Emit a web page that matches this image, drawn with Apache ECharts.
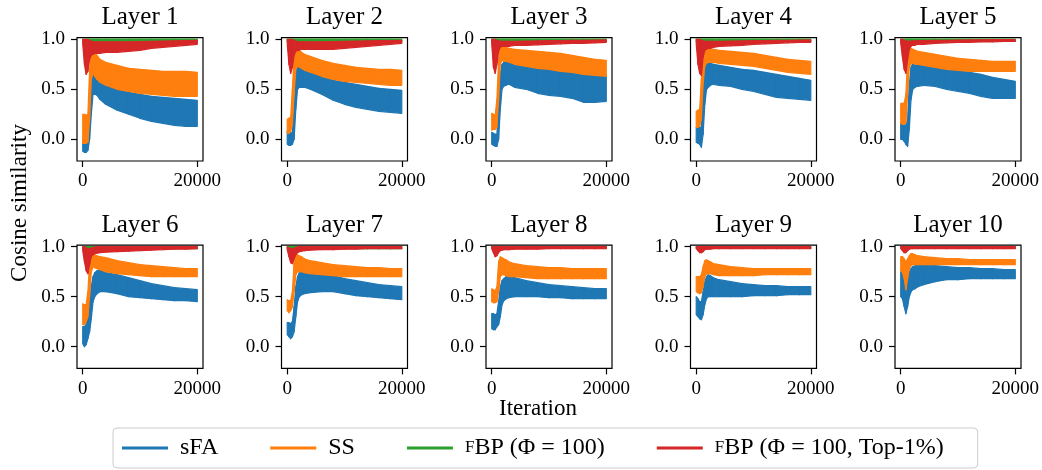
<!DOCTYPE html>
<html><head><meta charset="utf-8">
<script src="https://cdn.jsdelivr.net/npm/echarts@6/dist/echarts.min.js"></script>
<style>html,body{margin:0;padding:0;background:#fff}#c{width:1042px;height:470px}</style>
</head><body><div id="c"></div><script>
// ---------------- data ----------------
const iterations = [0,300,600,900,1200,1500,1800,2100,2500,3000,4000,6000,8000,10000,12000,14000,16000,18000,20000];
const layerNames = ['Layer 1','Layer 2','Layer 3','Layer 4','Layer 5','Layer 6','Layer 7','Layer 8','Layer 9','Layer 10'];
const seriesNames = ['sFA','SS','fBP (Φ = 100)','fBP (Φ = 100, Top-1%)'];
const seriesColors = ['#1f77b4','#ff7f0e','#2ca02c','#d62728'];
const xTicks = [0, 20000];
const yTicks = [0.0, 0.5, 1.0];

// sFA: lower / upper envelope of the noisy curve, one row per layer
const sfaLow = [
 [-0.12,-0.13,-0.13,-0.11,0.00,0.25,0.45,0.45,0.44,0.40,0.35,0.29,0.25,0.21,0.18,0.16,0.14,0.13,0.13],
 [-0.05,-0.06,-0.06,-0.05,0.00,0.30,0.50,0.52,0.52,0.52,0.50,0.45,0.39,0.35,0.32,0.30,0.28,0.27,0.26],
 [-0.05,-0.06,-0.07,-0.07,0.00,0.30,0.50,0.53,0.54,0.55,0.52,0.50,0.46,0.44,0.43,0.41,0.37,0.37,0.38],
 [-0.03,-0.04,-0.05,-0.08,0.05,0.35,0.50,0.52,0.54,0.55,0.54,0.53,0.50,0.48,0.45,0.42,0.41,0.40,0.39],
 [0.00,0.00,-0.02,-0.05,-0.07,0.10,0.40,0.50,0.52,0.53,0.54,0.53,0.50,0.48,0.46,0.43,0.41,0.41,0.41],
 [0.03,0.00,0.02,0.08,0.15,0.28,0.45,0.50,0.53,0.55,0.55,0.53,0.50,0.49,0.48,0.47,0.46,0.46,0.45],
 [0.12,0.10,0.08,0.10,0.15,0.30,0.45,0.50,0.52,0.53,0.54,0.55,0.55,0.53,0.51,0.50,0.49,0.48,0.47],
 [0.18,0.17,0.17,0.20,0.22,0.30,0.42,0.46,0.48,0.49,0.50,0.50,0.50,0.49,0.49,0.48,0.48,0.48,0.48],
 [0.32,0.30,0.28,0.27,0.32,0.42,0.48,0.50,0.50,0.50,0.50,0.50,0.50,0.51,0.51,0.51,0.52,0.52,0.52],
 [0.50,0.48,0.40,0.33,0.40,0.50,0.55,0.57,0.58,0.60,0.62,0.65,0.67,0.67,0.68,0.68,0.68,0.68,0.68]
];
const sfaHigh = [
 [0.00,0.00,-0.01,0.00,0.30,0.60,0.67,0.66,0.64,0.60,0.55,0.50,0.47,0.45,0.43,0.42,0.41,0.40,0.39],
 [0.08,0.08,0.06,0.07,0.30,0.65,0.74,0.73,0.71,0.70,0.68,0.63,0.59,0.57,0.55,0.53,0.51,0.50,0.49],
 [0.07,0.06,0.05,0.05,0.35,0.65,0.75,0.77,0.78,0.77,0.76,0.74,0.71,0.70,0.68,0.67,0.66,0.65,0.64],
 [0.12,0.12,0.12,0.12,0.50,0.70,0.75,0.76,0.76,0.75,0.74,0.72,0.70,0.69,0.67,0.65,0.63,0.61,0.59],
 [0.16,0.15,0.15,0.14,0.20,0.55,0.72,0.76,0.76,0.75,0.74,0.73,0.71,0.69,0.67,0.65,0.62,0.60,0.58],
 [0.20,0.20,0.22,0.30,0.45,0.60,0.70,0.74,0.76,0.77,0.74,0.72,0.69,0.66,0.63,0.61,0.59,0.58,0.57],
 [0.24,0.24,0.23,0.25,0.40,0.60,0.70,0.74,0.75,0.74,0.73,0.72,0.71,0.68,0.66,0.64,0.62,0.61,0.60],
 [0.33,0.33,0.32,0.33,0.45,0.60,0.66,0.68,0.70,0.70,0.69,0.66,0.64,0.62,0.61,0.60,0.59,0.58,0.58],
 [0.50,0.48,0.45,0.45,0.55,0.65,0.70,0.72,0.71,0.69,0.67,0.65,0.63,0.62,0.61,0.61,0.60,0.60,0.60],
 [0.75,0.73,0.68,0.60,0.65,0.75,0.78,0.80,0.81,0.82,0.82,0.81,0.80,0.79,0.79,0.78,0.78,0.77,0.77]
];
// SS
const ssLow = [
 [-0.04,-0.04,-0.04,-0.03,0.20,0.60,0.66,0.63,0.60,0.57,0.54,0.50,0.48,0.46,0.45,0.44,0.43,0.43,0.43],
 [0.06,0.06,0.08,0.15,0.45,0.70,0.73,0.72,0.71,0.69,0.67,0.63,0.60,0.58,0.57,0.56,0.55,0.54,0.54],
 [0.09,0.10,0.10,0.12,0.40,0.75,0.79,0.78,0.78,0.77,0.75,0.73,0.71,0.70,0.68,0.67,0.65,0.64,0.63],
 [0.12,0.12,0.13,0.20,0.55,0.73,0.76,0.77,0.77,0.77,0.76,0.75,0.74,0.73,0.71,0.69,0.67,0.66,0.65],
 [0.16,0.15,0.15,0.17,0.45,0.72,0.76,0.76,0.75,0.75,0.74,0.72,0.70,0.69,0.68,0.68,0.68,0.68,0.68],
 [0.22,0.22,0.25,0.30,0.50,0.75,0.80,0.79,0.78,0.77,0.75,0.73,0.72,0.71,0.70,0.70,0.70,0.70,0.70],
 [0.36,0.34,0.36,0.40,0.55,0.72,0.75,0.75,0.75,0.74,0.73,0.72,0.71,0.70,0.70,0.70,0.70,0.70,0.70],
 [0.45,0.44,0.44,0.45,0.55,0.70,0.72,0.72,0.71,0.70,0.70,0.69,0.68,0.68,0.68,0.68,0.68,0.68,0.68],
 [0.55,0.54,0.53,0.54,0.60,0.70,0.73,0.73,0.73,0.72,0.71,0.71,0.71,0.71,0.72,0.72,0.72,0.72,0.72],
 [0.76,0.74,0.68,0.57,0.68,0.78,0.81,0.82,0.82,0.82,0.82,0.82,0.82,0.82,0.82,0.82,0.82,0.82,0.82]
];
const ssHigh = [
 [0.25,0.25,0.24,0.25,0.70,0.88,0.88,0.86,0.84,0.80,0.77,0.74,0.71,0.70,0.69,0.68,0.68,0.68,0.67],
 [0.20,0.21,0.22,0.50,0.85,0.91,0.90,0.89,0.87,0.85,0.83,0.79,0.76,0.74,0.72,0.71,0.70,0.70,0.69],
 [0.26,0.25,0.24,0.40,0.80,0.93,0.93,0.93,0.92,0.91,0.90,0.89,0.88,0.87,0.86,0.84,0.82,0.80,0.79],
 [0.28,0.29,0.30,0.60,0.88,0.93,0.93,0.92,0.91,0.90,0.89,0.88,0.87,0.86,0.84,0.82,0.80,0.79,0.78],
 [0.36,0.36,0.36,0.45,0.80,0.91,0.91,0.90,0.89,0.88,0.87,0.85,0.83,0.81,0.80,0.79,0.78,0.78,0.78],
 [0.43,0.42,0.42,0.55,0.85,0.93,0.93,0.92,0.91,0.90,0.89,0.86,0.84,0.82,0.81,0.80,0.79,0.78,0.78],
 [0.47,0.46,0.46,0.55,0.85,0.92,0.92,0.91,0.90,0.88,0.86,0.84,0.82,0.81,0.80,0.79,0.79,0.78,0.78],
 [0.58,0.57,0.56,0.60,0.85,0.90,0.89,0.88,0.87,0.85,0.83,0.81,0.80,0.79,0.79,0.78,0.78,0.78,0.78],
 [0.70,0.70,0.70,0.72,0.80,0.86,0.87,0.86,0.85,0.83,0.82,0.80,0.79,0.78,0.78,0.78,0.78,0.78,0.78],
 [0.90,0.90,0.88,0.85,0.88,0.91,0.93,0.93,0.92,0.91,0.90,0.89,0.88,0.88,0.87,0.87,0.87,0.87,0.87]
];
// fBP (Phi = 100)
const fbpLow = [
 [0.975,0.975,0.975,0.975,0.975,0.975,0.975,0.975,0.975,0.975,0.975,0.975,0.975,0.975,0.975,0.975,0.975,0.975,0.975],
 [0.975,0.975,0.975,0.975,0.975,0.975,0.975,0.975,0.975,0.975,0.975,0.975,0.975,0.975,0.975,0.975,0.975,0.975,0.975],
 [0.978,0.978,0.978,0.978,0.978,0.978,0.978,0.978,0.978,0.978,0.978,0.978,0.978,0.978,0.978,0.978,0.978,0.978,0.978],
 [0.978,0.978,0.978,0.978,0.978,0.978,0.978,0.978,0.978,0.978,0.978,0.978,0.978,0.978,0.978,0.978,0.978,0.978,0.978],
 [0.980,0.980,0.980,0.980,0.980,0.980,0.980,0.980,0.980,0.980,0.980,0.980,0.980,0.980,0.980,0.980,0.980,0.980,0.980],
 [0.980,0.980,0.980,0.980,0.980,0.980,0.980,0.980,0.980,0.980,0.980,0.980,0.980,0.980,0.980,0.980,0.980,0.980,0.980],
 [0.980,0.980,0.980,0.980,0.980,0.980,0.980,0.980,0.980,0.980,0.980,0.980,0.980,0.980,0.980,0.980,0.980,0.980,0.980],
 [0.985,0.985,0.985,0.985,0.985,0.985,0.985,0.985,0.985,0.985,0.985,0.985,0.985,0.985,0.985,0.985,0.985,0.985,0.985],
 [0.985,0.985,0.985,0.985,0.985,0.985,0.985,0.985,0.985,0.985,0.985,0.985,0.985,0.985,0.985,0.985,0.985,0.985,0.985],
 [0.985,0.985,0.985,0.985,0.985,0.985,0.985,0.985,0.985,0.985,0.985,0.985,0.985,0.985,0.985,0.985,0.985,0.985,0.985]
];
const fbpHigh = [
 [1.002,1.002,1.002,1.002,1.002,1.002,1.002,1.002,1.002,1.002,1.002,1.002,1.002,1.002,1.002,1.002,1.002,1.002,1.002],
 [1.002,1.002,1.002,1.002,1.002,1.002,1.002,1.002,1.002,1.002,1.002,1.002,1.002,1.002,1.002,1.002,1.002,1.002,1.002],
 [1.002,1.002,1.002,1.002,1.002,1.002,1.002,1.002,1.002,1.002,1.002,1.002,1.002,1.002,1.002,1.002,1.002,1.002,1.002],
 [1.002,1.002,1.002,1.002,1.002,1.002,1.002,1.002,1.002,1.002,1.002,1.002,1.002,1.002,1.002,1.002,1.002,1.002,1.002],
 [1.002,1.002,1.002,1.002,1.002,1.002,1.002,1.002,1.002,1.002,1.002,1.002,1.002,1.002,1.002,1.002,1.002,1.002,1.002],
 [1.002,1.002,1.002,1.002,1.002,1.002,1.002,1.002,1.002,1.002,1.002,1.002,1.002,1.002,1.002,1.002,1.002,1.002,1.002],
 [1.002,1.002,1.002,1.002,1.002,1.002,1.002,1.002,1.002,1.002,1.002,1.002,1.002,1.002,1.002,1.002,1.002,1.002,1.002],
 [1.000,1.000,1.000,1.000,1.000,1.000,1.000,1.000,1.000,1.000,1.000,1.000,1.000,1.000,1.000,1.000,1.000,1.000,1.000],
 [1.000,1.000,1.000,1.000,1.000,1.000,1.000,1.000,1.000,1.000,1.000,1.000,1.000,1.000,1.000,1.000,1.000,1.000,1.000],
 [1.000,1.000,1.000,1.000,1.000,1.000,1.000,1.000,1.000,1.000,1.000,1.000,1.000,1.000,1.000,1.000,1.000,1.000,1.000]
];
// fBP (Phi = 100, Top-1%)
const topLow = [
 [0.95,0.75,0.65,0.68,0.80,0.84,0.85,0.86,0.86,0.86,0.87,0.87,0.88,0.89,0.91,0.92,0.93,0.94,0.95],
 [0.95,0.75,0.66,0.72,0.84,0.88,0.89,0.89,0.90,0.90,0.90,0.90,0.90,0.91,0.92,0.93,0.94,0.95,0.96],
 [0.95,0.72,0.66,0.75,0.88,0.92,0.93,0.93,0.93,0.93,0.94,0.94,0.945,0.95,0.955,0.96,0.96,0.965,0.97],
 [0.95,0.75,0.66,0.64,0.82,0.89,0.90,0.91,0.91,0.92,0.93,0.935,0.94,0.95,0.955,0.96,0.965,0.97,0.97],
 [0.96,0.82,0.70,0.66,0.80,0.90,0.93,0.94,0.94,0.95,0.95,0.96,0.965,0.97,0.97,0.975,0.975,0.98,0.98],
 [0.96,0.85,0.76,0.73,0.82,0.90,0.92,0.93,0.935,0.94,0.945,0.95,0.955,0.96,0.965,0.97,0.975,0.975,0.98],
 [0.97,0.90,0.84,0.83,0.88,0.92,0.94,0.95,0.955,0.96,0.965,0.97,0.97,0.975,0.975,0.98,0.98,0.98,0.98],
 [0.98,0.94,0.90,0.91,0.94,0.96,0.965,0.97,0.97,0.97,0.975,0.975,0.975,0.98,0.98,0.98,0.98,0.98,0.98],
 [0.98,0.96,0.94,0.94,0.95,0.97,0.975,0.975,0.975,0.98,0.98,0.98,0.98,0.98,0.98,0.98,0.98,0.98,0.98],
 [0.98,0.96,0.94,0.94,0.96,0.975,0.98,0.98,0.98,0.98,0.98,0.98,0.98,0.98,0.98,0.98,0.98,0.98,0.98]
];
const topHigh = [
 [1.00,1.00,1.00,1.00,0.99,0.98,0.975,0.975,0.975,0.975,0.975,0.975,0.975,0.978,0.98,0.982,0.985,0.988,0.99],
 [1.00,1.00,1.00,1.00,0.99,0.98,0.975,0.975,0.975,0.975,0.975,0.975,0.977,0.98,0.982,0.984,0.986,0.988,0.99],
 [1.00,1.00,1.00,0.99,0.985,0.98,0.98,0.98,0.98,0.98,0.98,0.982,0.984,0.986,0.988,0.99,0.99,0.992,0.994],
 [1.00,1.00,1.00,0.99,0.985,0.98,0.98,0.98,0.98,0.98,0.98,0.982,0.984,0.986,0.988,0.99,0.99,0.992,0.994],
 [1.00,1.00,0.99,0.985,0.98,0.98,0.982,0.984,0.985,0.986,0.988,0.99,0.99,0.992,0.994,0.995,0.996,0.997,0.998],
 [1.00,1.00,0.99,0.98,0.98,0.985,0.99,0.995,1.00,1.00,1.00,1.00,1.00,1.00,1.00,1.00,1.00,1.00,1.00],
 [1.00,0.99,0.98,0.98,0.985,0.99,0.995,1.00,1.00,1.00,1.00,1.00,1.00,1.00,1.00,1.00,1.00,1.00,1.00],
 [1.00,1.00,1.00,1.00,1.00,1.00,1.00,1.00,1.00,1.00,1.00,1.00,1.00,1.00,1.00,1.00,1.00,1.00,1.00],
 [1.00,1.00,1.00,1.00,1.00,1.00,1.00,1.00,1.00,1.00,1.00,1.00,1.00,1.00,1.00,1.00,1.00,1.00,1.00],
 [1.00,1.00,1.00,1.00,1.00,1.00,1.00,1.00,1.00,1.00,1.00,1.00,1.00,1.00,1.00,1.00,1.00,1.00,1.00]
];

// ---------------- chart ----------------
const FONT = '"Liberation Serif", "DejaVu Serif", serif';
const bandLows = [sfaLow, ssLow, fbpLow, topLow];
const bandHighs = [sfaHigh, ssHigh, fbpHigh, topHigh];

const chart = echarts.init(document.getElementById('c'), null, {renderer: 'canvas'});
const grids = [], xAxes = [], yAxes = [], series = [], texts = [];

// one data row per segment: [x0, lo0, hi0, x1, lo1, hi1]
function segments(lo, hi) {
  const rows = [];
  for (let k = 0; k < iterations.length - 1; k++) {
    rows.push([iterations[k], lo[k], hi[k], iterations[k + 1], lo[k + 1], hi[k + 1]]);
  }
  return rows;
}
function bandItem(color) {
  return function (params, api) {
    const a = api.coord([api.value(0), api.value(1)]);
    const b = api.coord([api.value(3), api.value(4)]);
    const c = api.coord([api.value(3), api.value(5)]);
    const d = api.coord([api.value(0), api.value(2)]);
    return {type: 'polygon', shape: {points: [a, b, c, d]},
            style: {fill: color, stroke: color, lineWidth: 1.2, lineJoin: 'round'}};
  };
}

for (let i = 0; i < 10; i++) {
  const c = i % 5, r = Math.floor(i / 5);
  const left = 77 + c * 204.5, top = 37.7 + r * 207.4, w = 126, h = 123.3;
  grids.push({left, top, width: w, height: h, show: true, borderColor: '#000', borderWidth: 1.2,
              backgroundColor: '#fff', containLabel: false, outerBoundsMode: 'none'});
  xAxes.push({
    gridIndex: i, type: 'value', min: -1000, max: 21000,
    axisLine: {show: false, onZero: false}, splitLine: {show: false},
    axisTick: {show: true, length: 6, lineStyle: {color: '#000', width: 1.2}, customValues: xTicks},
    axisLabel: {customValues: xTicks, fontSize: 19, fontFamily: FONT, color: '#000', margin: 11,
                formatter: v => String(v)}
  });
  yAxes.push({
    gridIndex: i, type: 'value', min: -0.217, max: 1.016,
    axisLine: {show: false, onZero: false}, splitLine: {show: false},
    axisTick: {show: true, length: 6, lineStyle: {color: '#000', width: 1.2}, customValues: yTicks},
    axisLabel: {customValues: yTicks, fontSize: 19, fontFamily: FONT, color: '#000', margin: 12,
                formatter: v => v.toFixed(1)}
  });
  texts.push({type: 'text', x: left + w / 2, y: top - 20, silent: true,
    style: {text: layerNames[i], fontSize: 25, fontFamily: FONT, fill: '#000', align: 'center', verticalAlign: 'middle'}});

  for (let s = 0; s < 4; s++) {
    series.push({
      name: seriesNames[s], type: 'custom', xAxisIndex: i, yAxisIndex: i,
      coordinateSystem: 'cartesian2d', silent: true, clip: true,
      color: seriesColors[s], itemStyle: {color: seriesColors[s]},
      encode: {x: [0, 3], y: [1, 2, 4, 5]},
      renderItem: bandItem(seriesColors[s]),
      data: segments(bandLows[s][i], bandHighs[s][i])
    });
  }
}

texts.push({type: 'text', x: 19.5, y: 203, rotation: Math.PI / 2, silent: true,
  style: {text: 'Cosine similarity', fontSize: 23, fontFamily: FONT, fill: '#000', align: 'center', verticalAlign: 'middle'}});
texts.push({type: 'text', x: 538, y: 408.5, silent: true,
  style: {text: 'Iteration', fontSize: 23, fontFamily: FONT, fill: '#000', align: 'center', verticalAlign: 'middle'}});

chart.setOption({
  animation: false,
  backgroundColor: '#fff',
  grid: grids, xAxis: xAxes, yAxis: yAxes, series,
  graphic: {elements: texts},
  legend: {
    left: 113, top: 428, orient: 'horizontal', selectedMode: false,
    padding: [8, 34, 8, 9], itemGap: 52, itemWidth: 46, itemHeight: 3,
    borderColor: '#cccccc', borderWidth: 1, borderRadius: 4, backgroundColor: '#fff',
    data: seriesNames.map(n => ({name: n, icon: 'rect'})),
    formatter: name => name.startsWith('fBP') ? '{sc|F}{b|' + name.slice(1) + '}' : '{a|' + name + '}',
    textStyle: {fontFamily: FONT, fontSize: 24, color: '#000',
      rich: {
        a: {fontFamily: FONT, fontSize: 24, color: '#000', padding: [0, 0, 0, 7]},
        b: {fontFamily: FONT, fontSize: 24, color: '#000'},
        sc: {fontFamily: FONT, fontSize: 17, color: '#000', padding: [0, 0, 0, 7]}
      }}
  }
});
</script></body></html>
